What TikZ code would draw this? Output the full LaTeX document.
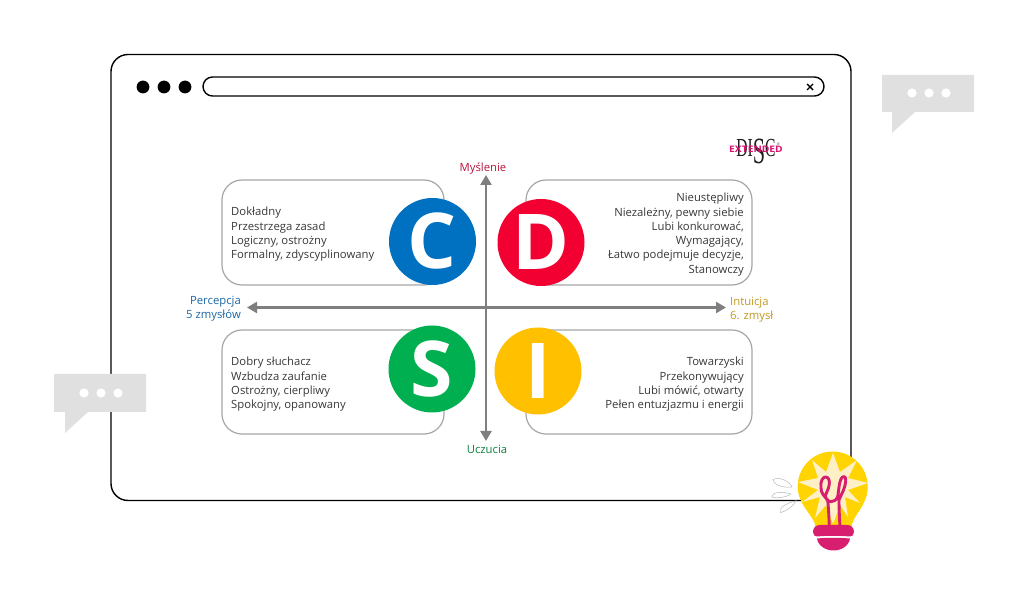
\documentclass[tikz,border=0pt]{standalone}
\usepackage{fontspec}
\setmainfont{Open Sans}
\newfontfamily\logofont{Liberation Serif}
\usetikzlibrary{arrows.meta}
\definecolor{axisgray}{HTML}{7F7F7F}
\definecolor{boxgray}{HTML}{A6A6A6}
\definecolor{bubblegray}{HTML}{E0E0E0}
\definecolor{cblue}{HTML}{0070C0}
\definecolor{dred}{HTML}{F20031}
\definecolor{sgreen}{HTML}{00B050}
\definecolor{iyellow}{HTML}{FFC000}
\definecolor{bulbyellow}{HTML}{FFD400}
\definecolor{bulbcream}{HTML}{FDEFC6}
\definecolor{bulbpink}{HTML}{D81E6E}
\definecolor{logopink}{HTML}{DC0F6E}
\definecolor{thinkred}{HTML}{B8143A}
\definecolor{feelgreen}{HTML}{0B8040}
\definecolor{percblue}{HTML}{1A66A6}
\definecolor{intugold}{HTML}{BF9A20}
\tikzset{
  quadrant/.style={draw=boxgray,line width=1.2pt,rounded corners=20pt,fill=white},
  badge/.style={circle,minimum size=87pt,inner sep=0pt,text=white,font=\fontsize{77}{77}\selectfont\bfseries},
  trait/.style={font=\fontsize{11.3}{14.3}\selectfont,text=black!78,inner sep=0pt},
  axisline/.style={draw=axisgray,line width=2.3pt,{Triangle[length=10pt,width=11pt]}-{Triangle[length=10pt,width=11pt]}},
  axislabel/.style={font=\fontsize{11.3}{14.3}\selectfont,inner sep=0pt},
  bubble/.style={fill=bubblegray,draw=none},
  bubbledot/.style={fill=white,draw=none},
  winline/.style={draw=black,line width=1.4pt},
  ray/.style={draw=black!28,line width=.5pt},
}
\begin{document}
\begin{tikzpicture}[x=1pt,y=-1pt]
\useasboundingbox (0,0) rectangle (1021,593);
\fill[white] (0,0) rectangle (1021,593);

% browser window
\draw[winline,rounded corners=17pt] (111,54.5) rectangle (851,500.5);
\draw[winline,rounded corners=9.5pt] (203,77) rectangle (824,96);
\foreach \px in {143,164,185} \fill[black] (\px,87) circle (6.4);
\draw[black,line width=1.4pt] (807,84) -- (813,90) (813,84) -- (807,90);

% speech bubbles
\path[bubble] (882,75) -- (974,75) -- (974,112) -- (915,112) -- (892,133) -- (892,112) -- (882,112) -- cycle;
\foreach \px in {912,929,946} \fill[bubbledot] (\px,93) circle (4.6);
\path[bubble] (54,374) -- (146,374) -- (146,412) -- (88,412) -- (65,433) -- (65,412) -- (54,412) -- cycle;
\foreach \px in {84,101,118} \fill[bubbledot] (\px,393) circle (4.6);

% logo: serif lettering with a dropped S, crossed by the red word
\node[anchor=base,inner sep=0pt,font=\logofont\fontsize{26}{26}\selectfont,text=black!88,xscale=.6] (logodisc) at (756,157)
  {DI\raisebox{-7pt}{\fontsize{37}{37}\selectfont S}C};
\node[inner sep=0pt,font=\logofont\fontsize{4}{4}\selectfont,text=black!80] (logoreg) at (778.5,144) {®};
\node[inner sep=0pt,font=\fontsize{9}{9}\selectfont\bfseries,text=logopink,xscale=1.14] (logoext) at (756,149.5) {EXTENDED};

% quadrant boxes
\draw[quadrant] (222,180) rectangle (444,285);
\draw[quadrant] (526,180) rectangle (752,285);
\draw[quadrant] (222,330) rectangle (444,434);
\draw[quadrant] (526,330) rectangle (752,434);

% axes
\coordinate (axtop) at (486,175);
\coordinate (axbot) at (486,441);
\coordinate (axleft) at (247,307.5);
\coordinate (axright) at (726,307.5);
\draw[axisline] (axtop) -- (axbot);
\draw[axisline] (axleft) -- (axright);

% letter badges
\node[badge,fill=cblue] (c) at (432.5,241.5) {\raisebox{-1.5pt}{C}};
\node[badge,fill=dred] (d) at (541,242.5) {\raisebox{-1.5pt}{D}};
\node[badge,fill=sgreen] (s) at (432,369) {\raisebox{-1.5pt}{S}};
\node[badge,fill=iyellow] (i) at (538,371) {\raisebox{-1.5pt}{I}};

% quadrant texts
\node[trait,anchor=north west,align=left] (ctext) at (231,207) {Dokładny\\Przestrzega zasad\\Logiczny, ostrożny\\Formalny, zdyscyplinowany};
\node[trait,anchor=north east,align=right] (dtext) at (744,193) {Nieustępliwy\\Niezależny, pewny siebie\\Lubi konkurować,\\Wymagający,\\Łatwo podejmuje decyzje,\\Stanowczy};
\node[trait,anchor=north west,align=left] (stext) at (231,357) {Dobry słuchacz\\Wzbudza zaufanie\\Ostrożny, cierpliwy\\Spokojny, opanowany};
\node[trait,anchor=north east,align=right] (itext) at (744,357) {Towarzyski\\Przekonywujący\\Lubi mówić, otwarty\\Pełen entuzjazmu i energii};

% axis labels
\node[axislabel,text=thinkred] (think) at (483,169) {Myślenie};
\node[axislabel,text=feelgreen] (feel) at (487,449.5) {Uczucia};
\node[axislabel,text=percblue,align=right,anchor=east] (perc) at (241,308.5) {Percepcja\\5 zmysłów};
\node[axislabel,text=intugold,align=left,anchor=west] (intu) at (730,310) {Intuicja\\6. zmysł};

% light bulb: sketched rays
\draw[ray] (773,479.5) .. controls (780,476) and (790,482) .. (792,487) .. controls (785,488) and (774,486) .. (773,479.5) -- cycle;
\draw[ray] (772,497) .. controls (772,491) and (785,492) .. (791,494) .. controls (787,497) and (776,499) .. (772,497) -- cycle;
\draw[ray] (780.7,512.7) .. controls (778,507) and (788,503) .. (796,500.7) .. controls (794,506) and (786,511) .. (780.7,512.7) -- cycle;

% light bulb: glass, star burst, filament, screw base
\fill[bulbyellow] (815.5,527) .. controls (815,516) and (797.7,506) .. (797.7,486.5) arc[start angle=180,end angle=360,radius=35] .. controls (867.7,506) and (852,516) .. (851.5,527) -- cycle;
\fill[bulbcream] (833,453) -- (840,472) -- (857,460) -- (848,478) -- (868,483) -- (848,490) -- (860,503) -- (845,497) -- (848,517) -- (840,505) -- (833,524) -- (826,505) -- (815,518) -- (820,497) -- (802,502) -- (818,490) -- (798,482) -- (818,478) -- (812,460) -- (826,472) -- cycle;
\draw[bulbpink,line width=2.9pt,line cap=round,line join=round]
  (829.3,527) .. controls (829,518) and (828.5,508) .. (827.7,500)
  .. controls (824,496) and (821,493) .. (821,488)
  .. controls (820,481) and (823,477) .. (825.5,477)
  .. controls (829,477) and (830,481) .. (829,486)
  .. controls (828,491) and (825,494) .. (825.5,497.5)
  .. controls (827,503) and (835,503.5) .. (837.7,496.7)
  .. controls (839,490) and (839,478) .. (843.5,476.5)
  .. controls (847,476) and (846,484) .. (843.5,490)
  .. controls (842,494) and (840,497) .. (839,500)
  .. controls (839,510) and (839.5,518) .. (840,527);
\fill[bulbpink] (813,532) .. controls (813,527.5) and (816,525) .. (820,525) -- (847,525) .. controls (851,525) and (854,527.5) .. (854,532) .. controls (854,535) and (852,536.5) .. (850,536.5) .. controls (838,535.5) and (828,535.5) .. (817,536.5) .. controls (815,536.5) and (813,535) .. (813,532) -- cycle;
\fill[bulbpink] (817,538.5) .. controls (828,537.5) and (838,537.5) .. (850,538.5) .. controls (849,546) and (841,550.5) .. (833.5,550.5) .. controls (826,550.5) and (818,546) .. (817,538.5) -- cycle;
\end{tikzpicture}
\end{document}
